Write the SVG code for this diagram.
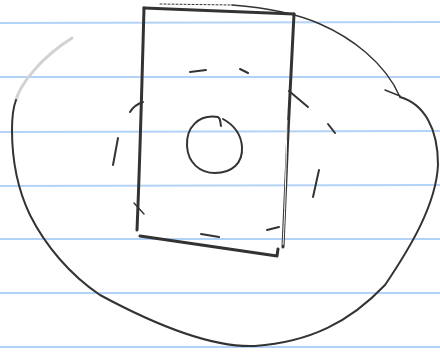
<svg xmlns="http://www.w3.org/2000/svg" width="440" height="352" viewBox="0 0 440 352">
<style>
.rule{stroke:#b3d3f6;stroke-width:1.8;fill:none}
.ink{stroke:#333;fill:none;stroke-linecap:round;stroke-linejoin:round}
.thick{stroke-width:3}
.mid{stroke-width:2}
.thin{stroke-width:1.4}
.faint{stroke:#d2d2d2;stroke-width:3;fill:none;stroke-linecap:round}
</style>
<rect width="440" height="352" fill="#fff"/>
<g id="paper-lines">
<line class="rule" x1="0" y1="23" x2="440" y2="22"/>
<line class="rule" x1="0" y1="77" x2="440" y2="77"/>
<line class="rule" x1="0" y1="132" x2="440" y2="131"/>
<line class="rule" x1="0" y1="186" x2="440" y2="185"/>
<line class="rule" x1="0" y1="239" x2="440" y2="239"/>
<line class="rule" x1="0" y1="293" x2="440" y2="293"/>
<line class="rule" x1="0" y1="347" x2="440" y2="347"/>
</g>
<g id="blob">
<path class="faint" d="M16,100 C20,85 40,58 72,38"/>
<path class="ink" stroke-width="1" stroke-dasharray="2 2" d="M160,4 L232,5"/>
<path class="ink thin" d="M232,5 C270,8 300,15 320,24 C350,37 385,62 400,97"/>
<path class="ink thin" d="M385,90 L400,96"/>
<path class="ink mid" d="M400,97 C424,104 438,128 438,165 C436,205 410,248 385,285 C350,322 310,342 255,346 C210,348 150,322 100,295 C70,275 45,245 30,215 C18,190 12,160 12,130 C12,118 13,108 16,100"/>
</g>
<g id="rectangle">
<path class="ink thick" d="M144,8 L294,14"/>
<path class="ink thick" d="M144,8 C142,80 140,160 137,230"/>
<path class="ink thick" d="M294,14 C290,90 286,170 283,247"/>
<path stroke="#fff" stroke-width="1" fill="none" d="M287,120 C286,170 285,210 283,245"/>
<path class="ink thick" d="M140,236 L277,256 L278,249"/>
</g>
<g id="center-circle">
<path class="ink mid" d="M221,126 C220,122 221,119 218,117 C198,114 186,128 187,146 C188,163 200,173 215,173 C232,173 243,163 242,147 C241,132 232,124 223,119"/>
</g>
<g id="dashed-ring">
<path class="ink mid" d="M190,72 L206,70"/>
<path class="ink mid" d="M240,69 L248,73"/>
<path class="ink mid" d="M130,112 C133,107 137,104 143,102"/>
<path class="ink mid" d="M113,165 L118,138"/>
<path class="ink mid" d="M289,91 L308,107"/>
<path class="ink mid" d="M328,124 L335,133"/>
<path class="ink mid" d="M319,170 L313,197"/>
<path class="ink mid" d="M201,234 L219,237"/>
<path class="ink mid" d="M267,230 L279,227"/>
<path class="ink thin" d="M134,203 L144,214"/>
</g>
</svg>
